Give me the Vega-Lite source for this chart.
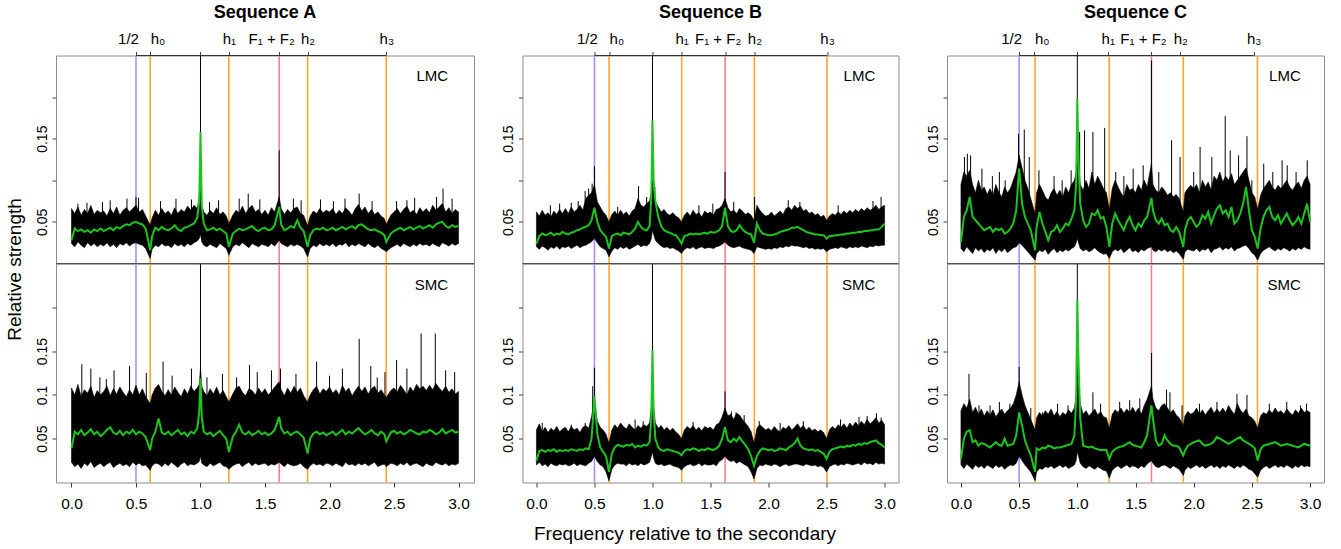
{
  "$schema": "https://vega.github.io/schema/vega-lite/v6.json",
  "padding": {"left": 5, "top": 2.5, "right": 5, "bottom": 5},
  "config": {
    "font": "Liberation Sans",
    "view": {"stroke": "#8c8c8c", "strokeWidth": 1},
    "axis": {"grid": false, "domain": false, "labelColor": "#000", "titleColor": "#000", "tickColor": "#404040", "tickWidth": 1, "labelFlush": false, "labelOverlap": false, "labelBound": false, "titleFontWeight": "normal", "labelFont": "Liberation Sans", "titleFont": "Liberation Sans"},
    "axisTop": {"tickSize": 4, "labelPadding": 8.5, "labelFontSize": 15, "labelBaseline": "alphabetic", "labelAngle": 0},
    "axisBottom": {"tickSize": 4.5, "labelPadding": 21, "labelFontSize": 15.5, "labelBaseline": "alphabetic", "labelAlign": "center", "labelAngle": 0},
    "axisLeft": {"tickSize": 4, "labelPadding": 6, "labelFontSize": 14, "labelAngle": 270, "labelAlign": "center", "labelBaseline": "alphabetic"},
    "title": {"fontSize": 18, "fontWeight": "bold", "anchor": "middle", "frame": "group", "baseline": "alphabetic", "offset": 9.5, "color": "#000"}
  },
  "datasets": {
    "guides": [
      {"s": "A", "k": "half", "x": 0.5}, {"s": "A", "k": "harm", "x": 0.61}, {"s": "A", "k": "harm", "x": 1.22}, {"s": "A", "k": "sum", "x": 1.61}, {"s": "A", "k": "harm", "x": 1.83}, {"s": "A", "k": "harm", "x": 2.44},
      {"s": "B", "k": "half", "x": 0.5}, {"s": "B", "k": "harm", "x": 0.626}, {"s": "B", "k": "harm", "x": 1.252}, {"s": "B", "k": "sum", "x": 1.626}, {"s": "B", "k": "harm", "x": 1.878}, {"s": "B", "k": "harm", "x": 2.504},
      {"s": "C", "k": "half", "x": 0.5}, {"s": "C", "k": "harm", "x": 0.637}, {"s": "C", "k": "harm", "x": 1.274}, {"s": "C", "k": "sum", "x": 1.637}, {"s": "C", "k": "harm", "x": 1.911}, {"s": "C", "k": "harm", "x": 2.548}
    ],
    "spikes": [
      {"s": "A", "c": "LMC", "x": [1,1.61,0.05,0.12,0.24,0.3,0.43,0.5,0.52,0.69,0.81,0.93,1.07,1.14,1.3,1.37,1.46,1.72,1.78,1.93,2.03,2.12,2.23,2.33,2.52,2.6,2.66,2.83,2.88,2.95],
       "y": [0.3,0.136,0.072,0.073,0.074,0.076,0.078,0.08,0.079,0.075,0.078,0.077,0.074,0.076,0.078,0.084,0.077,0.078,0.076,0.077,0.075,0.078,0.084,0.075,0.075,0.076,0.079,0.08,0.09,0.078]},
      {"s": "A", "c": "SMC", "x": [1,0.08,0.15,0.22,0.27,0.33,0.45,0.58,0.71,0.78,0.93,1.05,1.17,1.28,1.38,1.44,1.55,1.62,1.74,1.9,2.0,2.1,2.23,2.32,2.37,2.43,2.52,2.6,2.71,2.82,2.9,2.97],
       "y": [0.3,0.135,0.13,0.12,0.118,0.128,0.133,0.125,0.138,0.122,0.13,0.12,0.124,0.12,0.134,0.126,0.128,0.13,0.124,0.138,0.122,0.13,0.164,0.133,0.12,0.126,0.14,0.13,0.17,0.17,0.128,0.126]},
      {"s": "B", "c": "LMC", "x": [1,0.5,0.48,0.45,0.42,1.625,0.88,1.88,0.12,0.2,0.3,0.36,0.7,0.95,1.02,1.4,1.52,1.7,2.17,2.27,2.6,2.9,2.97],
       "y": [0.3,0.117,0.096,0.09,0.087,0.11,0.093,0.08,0.07,0.072,0.073,0.075,0.068,0.08,0.092,0.07,0.072,0.074,0.076,0.074,0.07,0.075,0.08]},
      {"s": "B", "c": "SMC", "x": [1,0.5,0.485,1.625,0.05,0.3,0.42,0.85,0.92,1.35,1.68,1.72,1.79,1.92,2.1,2.3,2.62,2.78,2.85,2.93,2.97],
       "y": [0.3,0.131,0.11,0.104,0.068,0.066,0.068,0.072,0.07,0.069,0.081,0.08,0.077,0.07,0.068,0.07,0.072,0.075,0.076,0.079,0.074]},
      {"s": "C", "c": "LMC", "x": [1,1.638,0.03,0.055,0.083,0.18,0.27,0.33,0.38,0.495,0.544,0.587,0.67,0.8,0.87,0.947,1.02,1.062,1.134,1.235,1.33,1.4,1.48,1.566,1.7,1.81,1.883,2.0,2.055,2.156,2.271,2.314,2.386,2.458,2.5,2.602,2.68,2.76,2.804,2.88,2.976],
       "y": [0.3,0.244,0.128,0.132,0.13,0.114,0.105,0.11,0.1,0.156,0.161,0.128,0.112,0.105,0.1,0.112,0.158,0.16,0.158,0.163,0.11,0.105,0.114,0.118,0.11,0.148,0.128,0.11,0.14,0.128,0.177,0.136,0.13,0.153,0.1,0.12,0.11,0.124,0.118,0.11,0.124]},
      {"s": "C", "c": "SMC", "x": [1,0.5,1.638,0.069,0.155,0.25,0.33,0.42,0.6,0.7,0.83,0.92,1.134,1.2,1.364,1.45,1.537,1.767,1.796,1.9,2.05,2.2,2.372,2.458,2.65,2.8,2.919,2.97],
       "y": [0.3,0.132,0.148,0.124,0.088,0.088,0.092,0.09,0.085,0.08,0.09,0.088,0.103,0.09,0.092,0.094,0.096,0.106,0.103,0.088,0.09,0.092,0.101,0.1,0.09,0.092,0.088,0.09]}
    ],
    "seqA": [{
      "x": [0,0.025,0.05,0.075,0.1,0.125,0.15,0.175,0.2,0.225,0.25,0.275,0.3,0.325,0.35,0.375,0.4,0.425,0.45,0.475,0.5,0.525,0.55,0.575,0.61,0.625,0.65,0.675,0.7,0.725,0.75,0.775,0.8,0.825,0.85,0.875,0.9,0.925,0.95,0.975,0.99,1,1.01,1.025,1.05,1.075,1.1,1.125,1.15,1.175,1.2,1.22,1.25,1.275,1.3,1.325,1.35,1.375,1.4,1.425,1.45,1.475,1.5,1.525,1.55,1.575,1.61,1.625,1.65,1.675,1.7,1.725,1.75,1.775,1.8,1.83,1.85,1.875,1.9,1.925,1.95,1.975,2,2.025,2.05,2.075,2.1,2.125,2.15,2.175,2.2,2.225,2.25,2.275,2.3,2.325,2.35,2.375,2.4,2.425,2.44,2.475,2.5,2.525,2.55,2.575,2.6,2.625,2.65,2.675,2.7,2.725,2.75,2.775,2.8,2.825,2.85,2.875,2.9,2.925,2.95,2.975,3],
      "L_hi": [0.066,0.06,0.068,0.058,0.065,0.06,0.07,0.059,0.064,0.061,0.063,0.057,0.066,0.06,0.068,0.058,0.064,0.067,0.062,0.066,0.07,0.062,0.065,0.057,0.046,0.055,0.064,0.058,0.066,0.06,0.063,0.058,0.067,0.06,0.065,0.062,0.069,0.064,0.07,0.066,0.08,0.09,0.07,0.062,0.058,0.064,0.06,0.067,0.059,0.062,0.057,0.048,0.058,0.064,0.061,0.069,0.06,0.066,0.07,0.062,0.065,0.059,0.064,0.058,0.067,0.062,0.08,0.066,0.059,0.065,0.061,0.066,0.068,0.06,0.058,0.045,0.057,0.063,0.06,0.066,0.061,0.064,0.062,0.066,0.059,0.064,0.06,0.067,0.063,0.058,0.066,0.071,0.063,0.068,0.06,0.065,0.059,0.062,0.057,0.054,0.047,0.058,0.062,0.066,0.06,0.065,0.069,0.061,0.064,0.059,0.067,0.062,0.066,0.061,0.07,0.064,0.068,0.072,0.062,0.067,0.06,0.065,0.062],
      "L_lo": [0.024,0.02,0.026,0.022,0.019,0.025,0.021,0.024,0.02,0.023,0.021,0.025,0.02,0.023,0.019,0.024,0.022,0.025,0.021,0.024,0.025,0.023,0.022,0.018,0.006,0.017,0.022,0.02,0.024,0.021,0.022,0.019,0.024,0.021,0.023,0.02,0.024,0.022,0.025,0.027,0.03,0.035,0.026,0.022,0.02,0.023,0.021,0.019,0.024,0.021,0.018,0.01,0.02,0.023,0.021,0.025,0.022,0.019,0.024,0.022,0.02,0.023,0.022,0.02,0.024,0.021,0.028,0.024,0.022,0.02,0.023,0.021,0.023,0.021,0.018,0.008,0.018,0.022,0.02,0.024,0.021,0.023,0.021,0.024,0.02,0.023,0.022,0.025,0.02,0.023,0.021,0.024,0.022,0.02,0.024,0.021,0.019,0.022,0.018,0.016,0.014,0.019,0.021,0.023,0.02,0.024,0.022,0.02,0.023,0.021,0.024,0.022,0.023,0.021,0.024,0.022,0.02,0.025,0.023,0.021,0.024,0.022,0.024],
      "L_g": [0.028,0.042,0.039,0.041,0.038,0.04,0.037,0.041,0.039,0.042,0.039,0.041,0.043,0.04,0.044,0.042,0.045,0.047,0.046,0.049,0.05,0.048,0.047,0.042,0.016,0.033,0.043,0.04,0.044,0.041,0.04,0.042,0.046,0.041,0.039,0.043,0.044,0.046,0.048,0.055,0.075,0.158,0.07,0.048,0.04,0.041,0.043,0.04,0.042,0.039,0.036,0.02,0.036,0.039,0.042,0.04,0.041,0.043,0.045,0.041,0.039,0.042,0.043,0.04,0.041,0.046,0.068,0.047,0.04,0.042,0.045,0.043,0.052,0.043,0.039,0.02,0.034,0.04,0.042,0.041,0.043,0.04,0.041,0.043,0.04,0.042,0.044,0.041,0.043,0.045,0.042,0.046,0.047,0.044,0.041,0.04,0.041,0.039,0.037,0.034,0.026,0.036,0.039,0.041,0.043,0.04,0.042,0.044,0.041,0.043,0.045,0.042,0.044,0.046,0.043,0.047,0.049,0.05,0.045,0.043,0.046,0.044,0.045],
      "S_hi": [0.108,0.1,0.112,0.098,0.106,0.102,0.11,0.097,0.105,0.1,0.104,0.11,0.099,0.107,0.101,0.109,0.103,0.098,0.106,0.1,0.111,0.1,0.107,0.098,0.09,0.1,0.108,0.112,0.104,0.099,0.106,0.1,0.109,0.103,0.098,0.107,0.101,0.11,0.104,0.108,0.112,0.13,0.11,0.104,0.099,0.107,0.101,0.109,0.1,0.105,0.098,0.092,0.101,0.108,0.11,0.103,0.099,0.107,0.105,0.1,0.108,0.102,0.107,0.1,0.104,0.109,0.115,0.106,0.099,0.108,0.102,0.11,0.103,0.108,0.099,0.092,0.1,0.106,0.11,0.101,0.107,0.104,0.109,0.102,0.106,0.1,0.111,0.104,0.108,0.099,0.105,0.11,0.104,0.109,0.101,0.107,0.11,0.102,0.106,0.1,0.097,0.105,0.108,0.103,0.111,0.106,0.1,0.109,0.104,0.112,0.107,0.11,0.105,0.111,0.106,0.113,0.108,0.104,0.11,0.103,0.107,0.101,0.104],
      "S_lo": [0.023,0.018,0.021,0.016,0.022,0.019,0.024,0.017,0.02,0.022,0.018,0.021,0.023,0.017,0.02,0.022,0.019,0.021,0.018,0.023,0.02,0.022,0.019,0.02,0.014,0.019,0.022,0.021,0.018,0.022,0.019,0.023,0.02,0.017,0.021,0.023,0.019,0.021,0.02,0.022,0.024,0.03,0.022,0.02,0.018,0.022,0.019,0.021,0.023,0.019,0.018,0.015,0.019,0.021,0.022,0.018,0.021,0.023,0.019,0.022,0.02,0.021,0.022,0.019,0.021,0.02,0.023,0.021,0.018,0.022,0.02,0.019,0.02,0.022,0.018,0.015,0.019,0.022,0.02,0.021,0.019,0.022,0.021,0.019,0.022,0.02,0.018,0.023,0.02,0.021,0.019,0.022,0.02,0.022,0.019,0.021,0.023,0.018,0.02,0.021,0.018,0.022,0.021,0.019,0.022,0.02,0.023,0.019,0.021,0.022,0.02,0.018,0.022,0.02,0.019,0.023,0.021,0.02,0.022,0.019,0.021,0.02,0.022],
      "S_g": [0.039,0.058,0.055,0.06,0.054,0.057,0.061,0.055,0.058,0.053,0.056,0.06,0.063,0.057,0.055,0.059,0.054,0.058,0.056,0.06,0.055,0.058,0.056,0.052,0.037,0.05,0.058,0.073,0.057,0.055,0.058,0.054,0.057,0.06,0.055,0.057,0.053,0.058,0.056,0.062,0.08,0.119,0.075,0.058,0.055,0.057,0.053,0.056,0.059,0.054,0.05,0.035,0.052,0.058,0.066,0.057,0.055,0.058,0.054,0.056,0.059,0.055,0.057,0.054,0.056,0.06,0.075,0.062,0.056,0.058,0.054,0.057,0.058,0.055,0.051,0.033,0.05,0.056,0.058,0.055,0.057,0.054,0.056,0.058,0.054,0.057,0.06,0.055,0.058,0.056,0.059,0.062,0.058,0.055,0.057,0.06,0.056,0.054,0.058,0.055,0.047,0.057,0.059,0.056,0.058,0.055,0.057,0.06,0.058,0.056,0.055,0.058,0.057,0.06,0.058,0.055,0.057,0.061,0.056,0.058,0.06,0.057,0.058]
    }],
    "seqB": [{
      "x": [0,0.025,0.05,0.075,0.1,0.125,0.15,0.175,0.2,0.225,0.25,0.275,0.3,0.325,0.35,0.375,0.4,0.425,0.45,0.475,0.5,0.525,0.55,0.575,0.6,0.625,0.65,0.675,0.7,0.725,0.75,0.775,0.8,0.825,0.85,0.875,0.9,0.925,0.95,0.975,0.99,1,1.01,1.025,1.05,1.075,1.1,1.125,1.15,1.175,1.2,1.225,1.25,1.275,1.3,1.325,1.35,1.375,1.4,1.425,1.45,1.475,1.5,1.525,1.55,1.575,1.6,1.625,1.65,1.675,1.7,1.725,1.75,1.775,1.8,1.825,1.85,1.875,1.9,1.925,1.95,1.975,2,2.025,2.05,2.075,2.1,2.125,2.15,2.175,2.2,2.225,2.25,2.275,2.3,2.325,2.35,2.375,2.4,2.425,2.45,2.475,2.5,2.525,2.55,2.575,2.6,2.625,2.65,2.675,2.7,2.725,2.75,2.775,2.8,2.825,2.85,2.875,2.9,2.925,2.95,2.975,3],
      "L_hi": [0.062,0.057,0.064,0.058,0.061,0.056,0.063,0.059,0.065,0.06,0.066,0.06,0.068,0.062,0.065,0.07,0.064,0.078,0.082,0.085,0.095,0.074,0.068,0.062,0.058,0.05,0.059,0.063,0.058,0.064,0.059,0.062,0.057,0.063,0.066,0.078,0.07,0.068,0.072,0.075,0.085,0.1,0.088,0.075,0.068,0.062,0.065,0.06,0.058,0.061,0.057,0.055,0.05,0.058,0.062,0.057,0.064,0.059,0.061,0.056,0.063,0.06,0.062,0.058,0.065,0.066,0.07,0.078,0.067,0.062,0.064,0.06,0.066,0.063,0.059,0.061,0.058,0.052,0.07,0.064,0.06,0.057,0.058,0.062,0.057,0.06,0.063,0.059,0.066,0.068,0.064,0.07,0.066,0.069,0.063,0.065,0.06,0.062,0.058,0.06,0.056,0.058,0.052,0.057,0.06,0.058,0.062,0.059,0.063,0.06,0.064,0.061,0.065,0.062,0.066,0.063,0.067,0.064,0.066,0.07,0.065,0.068,0.07],
      "L_lo": [0.02,0.017,0.021,0.019,0.016,0.02,0.018,0.021,0.017,0.02,0.019,0.021,0.018,0.02,0.022,0.019,0.021,0.022,0.024,0.026,0.03,0.025,0.02,0.018,0.016,0.008,0.015,0.019,0.017,0.02,0.018,0.02,0.017,0.019,0.021,0.023,0.02,0.022,0.021,0.024,0.03,0.04,0.035,0.028,0.024,0.021,0.019,0.02,0.018,0.019,0.017,0.015,0.012,0.017,0.019,0.018,0.02,0.017,0.019,0.02,0.018,0.019,0.019,0.018,0.02,0.021,0.023,0.026,0.022,0.02,0.019,0.02,0.021,0.019,0.018,0.017,0.016,0.012,0.02,0.019,0.018,0.017,0.018,0.017,0.019,0.018,0.02,0.019,0.021,0.02,0.022,0.021,0.021,0.02,0.019,0.02,0.018,0.019,0.017,0.018,0.017,0.018,0.014,0.017,0.018,0.019,0.018,0.02,0.019,0.018,0.02,0.019,0.02,0.019,0.021,0.02,0.019,0.021,0.02,0.022,0.021,0.022,0.022],
      "L_g": [0.024,0.033,0.036,0.034,0.035,0.037,0.034,0.036,0.035,0.038,0.036,0.035,0.037,0.038,0.04,0.041,0.043,0.044,0.046,0.052,0.067,0.05,0.04,0.036,0.032,0.018,0.033,0.035,0.036,0.034,0.037,0.036,0.035,0.038,0.042,0.05,0.044,0.041,0.04,0.045,0.08,0.172,0.1,0.075,0.056,0.045,0.04,0.038,0.037,0.035,0.034,0.03,0.024,0.033,0.034,0.036,0.035,0.036,0.035,0.036,0.037,0.036,0.038,0.037,0.038,0.04,0.045,0.067,0.045,0.039,0.038,0.04,0.046,0.041,0.038,0.036,0.035,0.025,0.048,0.04,0.036,0.035,0.034,0.034,0.035,0.036,0.038,0.039,0.04,0.041,0.043,0.043,0.044,0.042,0.04,0.038,0.037,0.036,0.035,0.035,0.034,0.034,0.03,0.033,0.033,0.034,0.034,0.035,0.035,0.036,0.036,0.037,0.037,0.038,0.038,0.039,0.039,0.04,0.04,0.041,0.041,0.044,0.048],
      "S_hi": [0.06,0.067,0.058,0.063,0.057,0.062,0.059,0.064,0.058,0.061,0.063,0.058,0.064,0.06,0.062,0.057,0.063,0.065,0.062,0.075,0.095,0.07,0.063,0.06,0.055,0.045,0.06,0.066,0.062,0.068,0.064,0.061,0.067,0.063,0.06,0.065,0.062,0.066,0.064,0.068,0.085,0.11,0.085,0.068,0.062,0.065,0.06,0.063,0.059,0.062,0.058,0.055,0.05,0.06,0.064,0.061,0.065,0.06,0.063,0.059,0.064,0.062,0.063,0.06,0.066,0.068,0.075,0.085,0.076,0.078,0.072,0.079,0.077,0.072,0.068,0.064,0.058,0.045,0.062,0.066,0.063,0.06,0.062,0.059,0.064,0.06,0.058,0.063,0.061,0.065,0.06,0.063,0.067,0.062,0.065,0.06,0.063,0.059,0.061,0.058,0.06,0.057,0.05,0.06,0.064,0.061,0.066,0.063,0.067,0.062,0.068,0.064,0.069,0.065,0.07,0.066,0.072,0.067,0.07,0.074,0.068,0.071,0.066],
      "S_lo": [0.02,0.023,0.019,0.021,0.018,0.022,0.02,0.019,0.021,0.02,0.021,0.019,0.02,0.022,0.019,0.021,0.02,0.019,0.022,0.024,0.03,0.024,0.02,0.018,0.012,0.002,0.015,0.02,0.022,0.021,0.021,0.019,0.022,0.02,0.021,0.019,0.022,0.02,0.021,0.023,0.03,0.035,0.028,0.022,0.02,0.021,0.019,0.02,0.021,0.019,0.018,0.017,0.014,0.018,0.02,0.021,0.019,0.02,0.022,0.019,0.021,0.02,0.02,0.021,0.019,0.024,0.026,0.03,0.026,0.024,0.025,0.022,0.024,0.022,0.02,0.018,0.012,0.004,0.016,0.02,0.019,0.021,0.02,0.019,0.021,0.02,0.018,0.02,0.021,0.019,0.02,0.021,0.021,0.02,0.019,0.021,0.02,0.019,0.02,0.018,0.019,0.017,0.012,0.018,0.02,0.021,0.019,0.021,0.02,0.022,0.021,0.02,0.021,0.022,0.02,0.023,0.021,0.022,0.02,0.023,0.021,0.022,0.021],
      "S_g": [0.025,0.036,0.037,0.035,0.037,0.036,0.038,0.035,0.037,0.036,0.037,0.036,0.038,0.037,0.036,0.038,0.037,0.039,0.038,0.05,0.098,0.055,0.04,0.035,0.03,0.012,0.033,0.04,0.043,0.042,0.041,0.043,0.042,0.044,0.04,0.042,0.041,0.043,0.042,0.046,0.075,0.151,0.08,0.05,0.04,0.037,0.036,0.038,0.037,0.036,0.035,0.034,0.031,0.036,0.038,0.037,0.039,0.038,0.036,0.038,0.037,0.039,0.038,0.037,0.039,0.042,0.05,0.063,0.048,0.046,0.05,0.047,0.052,0.047,0.043,0.038,0.03,0.019,0.03,0.036,0.039,0.038,0.037,0.038,0.036,0.037,0.039,0.038,0.037,0.04,0.042,0.045,0.05,0.042,0.039,0.038,0.037,0.038,0.036,0.037,0.035,0.033,0.027,0.035,0.038,0.039,0.04,0.041,0.04,0.042,0.041,0.043,0.042,0.044,0.043,0.045,0.044,0.046,0.047,0.048,0.045,0.043,0.04]
    }],
    "seqC": [{
      "x": [0,0.025,0.05,0.075,0.1,0.125,0.15,0.175,0.2,0.225,0.25,0.275,0.3,0.325,0.35,0.375,0.4,0.425,0.45,0.475,0.5,0.525,0.55,0.575,0.6,0.637,0.65,0.675,0.7,0.725,0.75,0.775,0.8,0.825,0.85,0.875,0.9,0.925,0.95,0.975,0.99,1,1.01,1.025,1.05,1.075,1.1,1.125,1.15,1.175,1.2,1.225,1.25,1.275,1.3,1.325,1.35,1.375,1.4,1.425,1.45,1.475,1.5,1.525,1.55,1.575,1.6,1.637,1.65,1.675,1.7,1.725,1.75,1.775,1.8,1.825,1.85,1.875,1.911,1.925,1.95,1.975,2,2.025,2.05,2.075,2.1,2.125,2.15,2.175,2.2,2.225,2.25,2.275,2.3,2.325,2.35,2.375,2.4,2.425,2.45,2.475,2.5,2.525,2.55,2.575,2.6,2.625,2.65,2.675,2.7,2.725,2.75,2.775,2.8,2.825,2.85,2.875,2.9,2.925,2.95,2.975,3],
      "L_hi": [0.095,0.11,0.105,0.112,0.095,0.085,0.1,0.088,0.092,0.083,0.09,0.082,0.095,0.086,0.08,0.092,0.085,0.09,0.1,0.11,0.13,0.115,0.1,0.09,0.078,0.06,0.085,0.095,0.088,0.08,0.076,0.085,0.09,0.082,0.088,0.08,0.092,0.085,0.095,0.1,0.11,0.14,0.12,0.095,0.088,0.1,0.09,0.11,0.095,0.105,0.098,0.09,0.085,0.065,0.09,0.1,0.092,0.085,0.08,0.095,0.088,0.09,0.085,0.095,0.088,0.1,0.092,0.12,0.095,0.088,0.085,0.092,0.088,0.082,0.085,0.08,0.083,0.078,0.062,0.085,0.09,0.094,0.09,0.095,0.085,0.1,0.092,0.098,0.088,0.105,0.1,0.11,0.098,0.105,0.1,0.108,0.095,0.1,0.105,0.11,0.115,0.1,0.085,0.08,0.065,0.082,0.09,0.095,0.1,0.092,0.088,0.094,0.09,0.095,0.1,0.092,0.088,0.094,0.098,0.09,0.1,0.105,0.095],
      "L_lo": [0.018,0.014,0.02,0.016,0.012,0.019,0.015,0.018,0.013,0.017,0.015,0.019,0.012,0.017,0.014,0.018,0.013,0.016,0.019,0.02,0.025,0.022,0.018,0.014,0.01,0.004,0.012,0.016,0.014,0.017,0.011,0.015,0.018,0.013,0.016,0.014,0.017,0.015,0.018,0.02,0.025,0.03,0.025,0.018,0.015,0.017,0.014,0.016,0.019,0.015,0.013,0.011,0.012,0.006,0.014,0.017,0.015,0.018,0.013,0.016,0.019,0.014,0.016,0.013,0.017,0.015,0.018,0.02,0.016,0.014,0.017,0.015,0.017,0.014,0.016,0.013,0.015,0.012,0.005,0.014,0.017,0.016,0.015,0.018,0.014,0.017,0.016,0.019,0.013,0.017,0.018,0.02,0.016,0.019,0.017,0.02,0.015,0.018,0.019,0.021,0.022,0.018,0.013,0.01,0.004,0.012,0.016,0.018,0.02,0.017,0.015,0.018,0.016,0.019,0.017,0.015,0.018,0.016,0.019,0.017,0.02,0.018,0.017],
      "L_g": [0.026,0.056,0.064,0.08,0.056,0.052,0.048,0.044,0.04,0.042,0.044,0.038,0.042,0.04,0.042,0.036,0.038,0.042,0.048,0.064,0.114,0.072,0.056,0.048,0.04,0.016,0.044,0.062,0.048,0.038,0.028,0.038,0.04,0.046,0.038,0.042,0.048,0.046,0.054,0.064,0.096,0.198,0.124,0.072,0.052,0.044,0.048,0.06,0.058,0.064,0.054,0.056,0.044,0.02,0.048,0.06,0.052,0.046,0.04,0.05,0.056,0.046,0.04,0.048,0.044,0.052,0.056,0.079,0.064,0.052,0.048,0.054,0.046,0.048,0.04,0.038,0.044,0.038,0.02,0.04,0.052,0.056,0.05,0.044,0.048,0.058,0.054,0.062,0.048,0.058,0.066,0.07,0.06,0.064,0.056,0.068,0.048,0.052,0.06,0.072,0.092,0.064,0.04,0.032,0.018,0.042,0.056,0.064,0.068,0.056,0.052,0.058,0.048,0.054,0.06,0.052,0.046,0.05,0.056,0.048,0.06,0.072,0.05],
      "S_hi": [0.082,0.09,0.085,0.095,0.08,0.086,0.078,0.084,0.076,0.082,0.077,0.083,0.075,0.08,0.084,0.078,0.082,0.085,0.09,0.1,0.115,0.1,0.088,0.08,0.072,0.06,0.074,0.08,0.076,0.082,0.078,0.084,0.076,0.081,0.075,0.08,0.077,0.083,0.079,0.085,0.1,0.13,0.11,0.09,0.078,0.082,0.076,0.08,0.084,0.077,0.081,0.075,0.074,0.062,0.078,0.083,0.08,0.085,0.079,0.084,0.08,0.086,0.08,0.085,0.078,0.088,0.095,0.11,0.095,0.085,0.082,0.088,0.09,0.085,0.08,0.083,0.077,0.074,0.065,0.076,0.081,0.078,0.08,0.085,0.078,0.083,0.077,0.082,0.086,0.079,0.084,0.08,0.085,0.08,0.088,0.082,0.078,0.09,0.083,0.079,0.084,0.076,0.074,0.07,0.062,0.076,0.08,0.078,0.083,0.079,0.085,0.08,0.082,0.078,0.084,0.08,0.077,0.083,0.079,0.085,0.08,0.082,0.08],
      "S_lo": [0.02,0.016,0.021,0.018,0.015,0.02,0.017,0.019,0.016,0.02,0.018,0.016,0.02,0.017,0.019,0.015,0.018,0.02,0.019,0.022,0.03,0.025,0.02,0.016,0.012,0.002,0.012,0.016,0.015,0.018,0.017,0.019,0.016,0.018,0.02,0.017,0.019,0.016,0.018,0.02,0.025,0.035,0.03,0.022,0.018,0.016,0.019,0.017,0.015,0.018,0.016,0.014,0.013,0.005,0.014,0.017,0.019,0.016,0.018,0.02,0.017,0.019,0.018,0.016,0.019,0.017,0.021,0.025,0.022,0.018,0.017,0.019,0.02,0.018,0.016,0.019,0.017,0.015,0.008,0.014,0.018,0.016,0.018,0.02,0.017,0.019,0.016,0.018,0.02,0.017,0.019,0.016,0.019,0.017,0.02,0.018,0.016,0.019,0.017,0.02,0.018,0.015,0.014,0.01,0.006,0.014,0.017,0.019,0.016,0.018,0.02,0.017,0.019,0.017,0.02,0.018,0.016,0.019,0.017,0.02,0.018,0.019,0.018],
      "S_g": [0.027,0.05,0.058,0.06,0.046,0.048,0.042,0.045,0.044,0.042,0.04,0.043,0.046,0.043,0.042,0.05,0.042,0.043,0.044,0.054,0.08,0.065,0.048,0.039,0.031,0.012,0.039,0.037,0.04,0.039,0.042,0.041,0.039,0.04,0.04,0.041,0.042,0.043,0.044,0.054,0.096,0.208,0.14,0.073,0.042,0.041,0.04,0.041,0.039,0.038,0.037,0.037,0.037,0.027,0.035,0.038,0.04,0.041,0.042,0.044,0.046,0.043,0.042,0.041,0.04,0.046,0.054,0.088,0.073,0.048,0.042,0.044,0.054,0.048,0.044,0.042,0.042,0.04,0.031,0.036,0.042,0.044,0.046,0.047,0.048,0.044,0.042,0.043,0.044,0.047,0.052,0.05,0.048,0.046,0.044,0.046,0.048,0.05,0.052,0.048,0.046,0.044,0.042,0.039,0.025,0.038,0.042,0.043,0.044,0.045,0.046,0.044,0.042,0.043,0.044,0.043,0.042,0.041,0.04,0.042,0.044,0.043,0.042]
    }]
  },
  "spacing": 25.5,
  "hconcat": [
    {
      "bounds": "flush", "spacing": 0,
      "vconcat": [
        {
          "width": 418, "height": 208,
          "title": {"text": "Sequence A"},
          "layer": [
            {"data": {"name": "guides"}, "transform": [{"filter": "datum.s == 'A'"}],
             "mark": {"type": "rule", "strokeWidth": 1.6},
             "encoding": {
               "x": {"field": "x", "type": "quantitative", "scale": {"domain": [-0.12, 3.12], "nice": false, "zero": false},
                     "axis": {"orient": "top", "title": null, "values": [0.5, 0.61, 1, 1.22, 1.61, 1.83, 2.44],
                              "labelAlign": {"condition": {"test": "datum.value == 0.61", "value": "left"}, "value": "center"},
                              "labelOffset": {"condition": {"test": "datum.value == 0.5 || datum.value == 1.61", "value": -8}, "value": 0},
                              "labelExpr": "datum.value == 0.5 ? '1/2' : datum.value == 0.61 ? 'h₀' : datum.value == 1.22 ? 'h₁' : datum.value == 1.61 ? 'F₁ + F₂' : datum.value == 1.83 ? 'h₂' : datum.value == 2.44 ? 'h₃' : ''"}},
               "color": {"field": "k", "type": "nominal", "scale": {"domain": ["half", "harm", "sum"], "range": ["#b28aff", "#ffa530", "#f4838b"]}, "legend": null}}},
            {"data": {"name": "seqA"}, "transform": [{"flatten": ["x", "L_lo", "L_hi"]}],
             "mark": {"type": "area", "color": "#000", "stroke": "#000", "strokeWidth": 0.6, "clip": true},
             "encoding": {
               "x": {"field": "x", "type": "quantitative"},
               "y": {"field": "L_lo", "type": "quantitative", "scale": {"domain": [0, 0.25], "nice": false, "zero": false},
                     "axis": {"values": [0.05, 0.1, 0.15, 0.2], "labelExpr": "datum.value == 0.05 ? '0.05' : datum.value == 0.15 ? '0.15' : ''",
                              "title": "Relative strength", "titleFontSize": 19, "titleAngle": 270, "titleAlign": "center", "titleBaseline": "alphabetic", "titleX": -35.5, "titleY": 213.5}},
               "y2": {"field": "L_hi"}}},
            {"data": {"name": "spikes"}, "transform": [{"filter": "datum.s == 'A' && datum.c == 'LMC'"}, {"flatten": ["x", "y"]}],
             "mark": {"type": "rule", "color": "#000", "strokeWidth": 1, "clip": true},
             "encoding": {"x": {"field": "x", "type": "quantitative"}, "y": {"field": "y", "type": "quantitative"}, "y2": {"datum": 0.05}}},
            {"data": {"name": "seqA"}, "transform": [{"flatten": ["x", "L_g"]}],
             "mark": {"type": "line", "color": "#1ec41e", "strokeWidth": 2, "clip": true},
             "encoding": {"x": {"field": "x", "type": "quantitative"}, "y": {"field": "L_g", "type": "quantitative"}}},
            {"data": {"values": [{}]}, "mark": {"type": "rule", "color": "#333", "strokeWidth": 1},
             "encoding": {"x": {"datum": 0.5, "type": "quantitative"}, "x2": {"datum": 2.44}, "y": {"datum": 0.25, "type": "quantitative"}}},
            {"data": {"values": [{}]}, "mark": {"type": "text", "text": "LMC", "align": "right", "baseline": "middle", "fontSize": 15},
             "encoding": {"x": {"datum": 2.92, "type": "quantitative"}, "y": {"datum": 0.225, "type": "quantitative"}}}
          ]
        },
        {
          "width": 418, "height": 219,
          "layer": [
            {"data": {"name": "guides"}, "transform": [{"filter": "datum.s == 'A'"}],
             "mark": {"type": "rule", "strokeWidth": 1.6},
             "encoding": {
               "x": {"field": "x", "type": "quantitative", "scale": {"domain": [-0.12, 3.12], "nice": false, "zero": false},
                     "axis": {"orient": "bottom", "title": null, "values": [0, 0.5, 1, 1.5, 2, 2.5, 3], "format": ".1f"}},
               "color": {"field": "k", "type": "nominal", "scale": {"domain": ["half", "harm", "sum"], "range": ["#b28aff", "#ffa530", "#f4838b"]}, "legend": null}}},
            {"data": {"name": "seqA"}, "transform": [{"flatten": ["x", "S_lo", "S_hi"]}],
             "mark": {"type": "area", "color": "#000", "stroke": "#000", "strokeWidth": 0.6, "clip": true},
             "encoding": {
               "x": {"field": "x", "type": "quantitative"},
               "y": {"field": "S_lo", "type": "quantitative", "scale": {"domain": [0, 0.25], "nice": false, "zero": false},
                     "axis": {"values": [0.05, 0.1, 0.15, 0.2], "title": null, "labelExpr": "datum.value == 0.05 ? '0.05' : datum.value == 0.1 ? '0.1' : datum.value == 0.15 ? '0.15' : ''"}},
               "y2": {"field": "S_hi"}}},
            {"data": {"name": "spikes"}, "transform": [{"filter": "datum.s == 'A' && datum.c == 'SMC'"}, {"flatten": ["x", "y"]}],
             "mark": {"type": "rule", "color": "#000", "strokeWidth": 1, "clip": true},
             "encoding": {"x": {"field": "x", "type": "quantitative"}, "y": {"field": "y", "type": "quantitative"}, "y2": {"datum": 0.05}}},
            {"data": {"name": "seqA"}, "transform": [{"flatten": ["x", "S_g"]}],
             "mark": {"type": "line", "color": "#1ec41e", "strokeWidth": 2, "clip": true},
             "encoding": {"x": {"field": "x", "type": "quantitative"}, "y": {"field": "S_g", "type": "quantitative"}}},
            {"data": {"values": [{}]}, "mark": {"type": "rule", "color": "#505050", "strokeWidth": 1},
             "encoding": {"y": {"datum": 0.25, "type": "quantitative"}}},
            {"data": {"values": [{}]}, "mark": {"type": "text", "text": "SMC", "align": "right", "baseline": "middle", "fontSize": 15},
             "encoding": {"x": {"datum": 2.92, "type": "quantitative"}, "y": {"datum": 0.225, "type": "quantitative"}}}
          ]
        }
      ]
    },
    {
      "bounds": "flush", "spacing": 0,
      "vconcat": [
        {
          "width": 376, "height": 208,
          "title": {"text": "Sequence B"},
          "layer": [
            {"data": {"name": "guides"}, "transform": [{"filter": "datum.s == 'B'"}],
             "mark": {"type": "rule", "strokeWidth": 1.6},
             "encoding": {
               "x": {"field": "x", "type": "quantitative", "scale": {"domain": [-0.12, 3.12], "nice": false, "zero": false},
                     "axis": {"orient": "top", "title": null, "values": [0.5, 0.626, 1, 1.252, 1.626, 1.878, 2.504],
                              "labelAlign": {"condition": {"test": "datum.value == 0.626", "value": "left"}, "value": "center"},
                              "labelOffset": {"condition": {"test": "datum.value == 0.5 || datum.value == 1.626", "value": -7.5}, "value": 0},
                              "labelExpr": "datum.value == 0.5 ? '1/2' : datum.value == 0.626 ? 'h₀' : datum.value == 1.252 ? 'h₁' : datum.value == 1.626 ? 'F₁ + F₂' : datum.value == 1.878 ? 'h₂' : datum.value == 2.504 ? 'h₃' : ''"}},
               "color": {"field": "k", "type": "nominal", "scale": {"domain": ["half", "harm", "sum"], "range": ["#b28aff", "#ffa530", "#f4838b"]}, "legend": null}}},
            {"data": {"name": "seqB"}, "transform": [{"flatten": ["x", "L_lo", "L_hi"]}],
             "mark": {"type": "area", "color": "#000", "stroke": "#000", "strokeWidth": 0.6, "clip": true},
             "encoding": {
               "x": {"field": "x", "type": "quantitative"},
               "y": {"field": "L_lo", "type": "quantitative", "scale": {"domain": [0, 0.25], "nice": false, "zero": false},
                     "axis": {"values": [0.05, 0.1, 0.15, 0.2], "title": null, "labelExpr": "datum.value == 0.05 ? '0.05' : datum.value == 0.15 ? '0.15' : ''"}},
               "y2": {"field": "L_hi"}}},
            {"data": {"name": "spikes"}, "transform": [{"filter": "datum.s == 'B' && datum.c == 'LMC'"}, {"flatten": ["x", "y"]}],
             "mark": {"type": "rule", "color": "#000", "strokeWidth": 1, "clip": true},
             "encoding": {"x": {"field": "x", "type": "quantitative"}, "y": {"field": "y", "type": "quantitative"}, "y2": {"datum": 0.05}}},
            {"data": {"name": "seqB"}, "transform": [{"flatten": ["x", "L_g"]}],
             "mark": {"type": "line", "color": "#1ec41e", "strokeWidth": 2, "clip": true},
             "encoding": {"x": {"field": "x", "type": "quantitative"}, "y": {"field": "L_g", "type": "quantitative"}}},
            {"data": {"values": [{}]}, "mark": {"type": "rule", "color": "#333", "strokeWidth": 1},
             "encoding": {"x": {"datum": 0.5, "type": "quantitative"}, "x2": {"datum": 2.504}, "y": {"datum": 0.25, "type": "quantitative"}}},
            {"data": {"values": [{}]}, "mark": {"type": "text", "text": "LMC", "align": "right", "baseline": "middle", "fontSize": 15},
             "encoding": {"x": {"datum": 2.92, "type": "quantitative"}, "y": {"datum": 0.225, "type": "quantitative"}}}
          ]
        },
        {
          "width": 376, "height": 219,
          "layer": [
            {"data": {"name": "guides"}, "transform": [{"filter": "datum.s == 'B'"}],
             "mark": {"type": "rule", "strokeWidth": 1.6},
             "encoding": {
               "x": {"field": "x", "type": "quantitative", "scale": {"domain": [-0.12, 3.12], "nice": false, "zero": false},
                     "axis": {"orient": "bottom", "values": [0, 0.5, 1, 1.5, 2, 2.5, 3], "format": ".1f",
                              "title": "Frequency relative to the secondary", "titleFontSize": 19, "titleAlign": "center", "titleBaseline": "alphabetic", "titleX": 162, "titleY": 57}},
               "color": {"field": "k", "type": "nominal", "scale": {"domain": ["half", "harm", "sum"], "range": ["#b28aff", "#ffa530", "#f4838b"]}, "legend": null}}},
            {"data": {"name": "seqB"}, "transform": [{"flatten": ["x", "S_lo", "S_hi"]}],
             "mark": {"type": "area", "color": "#000", "stroke": "#000", "strokeWidth": 0.6, "clip": true},
             "encoding": {
               "x": {"field": "x", "type": "quantitative"},
               "y": {"field": "S_lo", "type": "quantitative", "scale": {"domain": [0, 0.25], "nice": false, "zero": false},
                     "axis": {"values": [0.05, 0.1, 0.15, 0.2], "title": null, "labelExpr": "datum.value == 0.05 ? '0.05' : datum.value == 0.1 ? '0.1' : datum.value == 0.15 ? '0.15' : ''"}},
               "y2": {"field": "S_hi"}}},
            {"data": {"name": "spikes"}, "transform": [{"filter": "datum.s == 'B' && datum.c == 'SMC'"}, {"flatten": ["x", "y"]}],
             "mark": {"type": "rule", "color": "#000", "strokeWidth": 1, "clip": true},
             "encoding": {"x": {"field": "x", "type": "quantitative"}, "y": {"field": "y", "type": "quantitative"}, "y2": {"datum": 0.05}}},
            {"data": {"name": "seqB"}, "transform": [{"flatten": ["x", "S_g"]}],
             "mark": {"type": "line", "color": "#1ec41e", "strokeWidth": 2, "clip": true},
             "encoding": {"x": {"field": "x", "type": "quantitative"}, "y": {"field": "S_g", "type": "quantitative"}}},
            {"data": {"values": [{}]}, "mark": {"type": "rule", "color": "#505050", "strokeWidth": 1},
             "encoding": {"y": {"datum": 0.25, "type": "quantitative"}}},
            {"data": {"values": [{}]}, "mark": {"type": "text", "text": "SMC", "align": "right", "baseline": "middle", "fontSize": 15},
             "encoding": {"x": {"datum": 2.92, "type": "quantitative"}, "y": {"datum": 0.225, "type": "quantitative"}}}
          ]
        }
      ]
    },
    {
      "bounds": "flush", "spacing": 0,
      "vconcat": [
        {
          "width": 377, "height": 208,
          "title": {"text": "Sequence C"},
          "layer": [
            {"data": {"name": "guides"}, "transform": [{"filter": "datum.s == 'C'"}],
             "mark": {"type": "rule", "strokeWidth": 1.6},
             "encoding": {
               "x": {"field": "x", "type": "quantitative", "scale": {"domain": [-0.12, 3.12], "nice": false, "zero": false},
                     "axis": {"orient": "top", "title": null, "values": [0.5, 0.631, 1, 1.262, 1.633, 1.885, 2.515],
                              "labelAlign": {"condition": {"test": "datum.value == 0.631", "value": "left"}, "value": "center"},
                              "labelOffset": {"condition": {"test": "datum.value == 0.5 || datum.value == 1.633", "value": -8}, "value": 0},
                              "labelExpr": "datum.value == 0.5 ? '1/2' : datum.value == 0.631 ? 'h₀' : datum.value == 1.262 ? 'h₁' : datum.value == 1.633 ? 'F₁ + F₂' : datum.value == 1.885 ? 'h₂' : datum.value == 2.515 ? 'h₃' : ''"}},
               "color": {"field": "k", "type": "nominal", "scale": {"domain": ["half", "harm", "sum"], "range": ["#b28aff", "#ffa530", "#f4838b"]}, "legend": null}}},
            {"data": {"name": "seqC"}, "transform": [{"flatten": ["x", "L_lo", "L_hi"]}],
             "mark": {"type": "area", "color": "#000", "stroke": "#000", "strokeWidth": 0.6, "clip": true},
             "encoding": {
               "x": {"field": "x", "type": "quantitative"},
               "y": {"field": "L_lo", "type": "quantitative", "scale": {"domain": [0, 0.25], "nice": false, "zero": false},
                     "axis": {"values": [0.05, 0.1, 0.15, 0.2], "title": null, "labelExpr": "datum.value == 0.05 ? '0.05' : datum.value == 0.15 ? '0.15' : ''"}},
               "y2": {"field": "L_hi"}}},
            {"data": {"name": "spikes"}, "transform": [{"filter": "datum.s == 'C' && datum.c == 'LMC'"}, {"flatten": ["x", "y"]}],
             "mark": {"type": "rule", "color": "#000", "strokeWidth": 1, "clip": true},
             "encoding": {"x": {"field": "x", "type": "quantitative"}, "y": {"field": "y", "type": "quantitative"}, "y2": {"datum": 0.05}}},
            {"data": {"name": "seqC"}, "transform": [{"flatten": ["x", "L_g"]}],
             "mark": {"type": "line", "color": "#1ec41e", "strokeWidth": 2, "clip": true},
             "encoding": {"x": {"field": "x", "type": "quantitative"}, "y": {"field": "L_g", "type": "quantitative"}}},
            {"data": {"values": [{}]}, "mark": {"type": "rule", "color": "#333", "strokeWidth": 1},
             "encoding": {"x": {"datum": 0.5, "type": "quantitative"}, "x2": {"datum": 2.515}, "y": {"datum": 0.25, "type": "quantitative"}}},
            {"data": {"values": [{}]}, "mark": {"type": "text", "text": "LMC", "align": "right", "baseline": "middle", "fontSize": 15},
             "encoding": {"x": {"datum": 2.92, "type": "quantitative"}, "y": {"datum": 0.225, "type": "quantitative"}}}
          ]
        },
        {
          "width": 377, "height": 219,
          "layer": [
            {"data": {"name": "guides"}, "transform": [{"filter": "datum.s == 'C'"}],
             "mark": {"type": "rule", "strokeWidth": 1.6},
             "encoding": {
               "x": {"field": "x", "type": "quantitative", "scale": {"domain": [-0.12, 3.12], "nice": false, "zero": false},
                     "axis": {"orient": "bottom", "title": null, "values": [0, 0.5, 1, 1.5, 2, 2.5, 3], "format": ".1f"}},
               "color": {"field": "k", "type": "nominal", "scale": {"domain": ["half", "harm", "sum"], "range": ["#b28aff", "#ffa530", "#f4838b"]}, "legend": null}}},
            {"data": {"name": "seqC"}, "transform": [{"flatten": ["x", "S_lo", "S_hi"]}],
             "mark": {"type": "area", "color": "#000", "stroke": "#000", "strokeWidth": 0.6, "clip": true},
             "encoding": {
               "x": {"field": "x", "type": "quantitative"},
               "y": {"field": "S_lo", "type": "quantitative", "scale": {"domain": [0, 0.25], "nice": false, "zero": false},
                     "axis": {"values": [0.05, 0.1, 0.15, 0.2], "title": null, "labelExpr": "datum.value == 0.05 ? '0.05' : datum.value == 0.1 ? '0.1' : datum.value == 0.15 ? '0.15' : ''"}},
               "y2": {"field": "S_hi"}}},
            {"data": {"name": "spikes"}, "transform": [{"filter": "datum.s == 'C' && datum.c == 'SMC'"}, {"flatten": ["x", "y"]}],
             "mark": {"type": "rule", "color": "#000", "strokeWidth": 1, "clip": true},
             "encoding": {"x": {"field": "x", "type": "quantitative"}, "y": {"field": "y", "type": "quantitative"}, "y2": {"datum": 0.05}}},
            {"data": {"name": "seqC"}, "transform": [{"flatten": ["x", "S_g"]}],
             "mark": {"type": "line", "color": "#1ec41e", "strokeWidth": 2, "clip": true},
             "encoding": {"x": {"field": "x", "type": "quantitative"}, "y": {"field": "S_g", "type": "quantitative"}}},
            {"data": {"values": [{}]}, "mark": {"type": "rule", "color": "#505050", "strokeWidth": 1},
             "encoding": {"y": {"datum": 0.25, "type": "quantitative"}}},
            {"data": {"values": [{}]}, "mark": {"type": "text", "text": "SMC", "align": "right", "baseline": "middle", "fontSize": 15},
             "encoding": {"x": {"datum": 2.92, "type": "quantitative"}, "y": {"datum": 0.225, "type": "quantitative"}}}
          ]
        }
      ]
    }
  ]
}
